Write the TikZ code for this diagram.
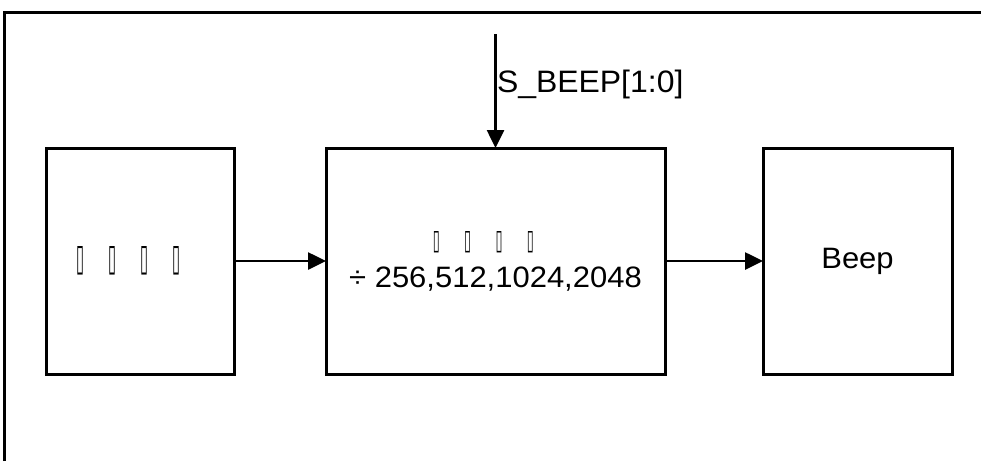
\documentclass[tikz,border=0pt]{standalone}
\usepackage{fontspec}
\usepackage{graphicx}
\setmainfont{Liberation Sans}
\newfontfamily\dejavub{DejaVu Sans Bold}
\usetikzlibrary{arrows.meta}
\newcommand\tofucell[3]{\makebox[#3][l]{\resizebox{#1}{#2}{\dejavub ▯}}}
\newcommand\wide[1]{\scalebox{1.05}[1]{#1}}
\begin{document}
\begin{tikzpicture}[x=1pt,y=-1pt,
  blk/.style={draw, line width=3pt, minimum width=#1, minimum height=226pt,
    inner sep=0pt, outer sep=0pt, align=center},
  lbl/.style={inner sep=0pt, outer sep=0pt},
  arr/.style={line width=2.6pt, -{Triangle[length=18pt,width=17pt]}},
  frame/.style={line width=3pt, line join=miter},
  font=\fontsize{29.5pt}{36pt}\selectfont]
\useasboundingbox (0,0) rectangle (981,461);
\draw[frame] (4.5,461) -- (4.5,12) -- (990,12);
\node[blk=188pt] (A) at (140,261) {\tofucell{8pt}{24pt}{32pt}\tofucell{8pt}{24pt}{32pt}\tofucell{8pt}{24pt}{32pt}\tofucell{8pt}{24pt}{32pt}};
\node[blk=339pt] (B) at (495.5,261) {\tofucell{7pt}{18pt}{31.3pt}\tofucell{7pt}{18pt}{31.3pt}\tofucell{7pt}{18pt}{31.3pt}\tofucell{7pt}{18pt}{31.3pt}\\[2pt]\wide{÷ 256,512,1024,2048}};
\node[blk=189pt] (C) at (857.5,261) {\wide{Beep}};
\coordinate (top) at (B.north |- 0,34);
\draw[arr] (A.east) -- (B.west);
\draw[arr] (B.east) -- (C.west);
\draw[arr] (top) -- (B.north);
\node[lbl, anchor=base west, font=\fontsize{31pt}{37pt}\selectfont] (sig) at (497,92) {\scalebox{1.03}[1]{S\_BEEP[1:0]}};
\end{tikzpicture}
\end{document}
